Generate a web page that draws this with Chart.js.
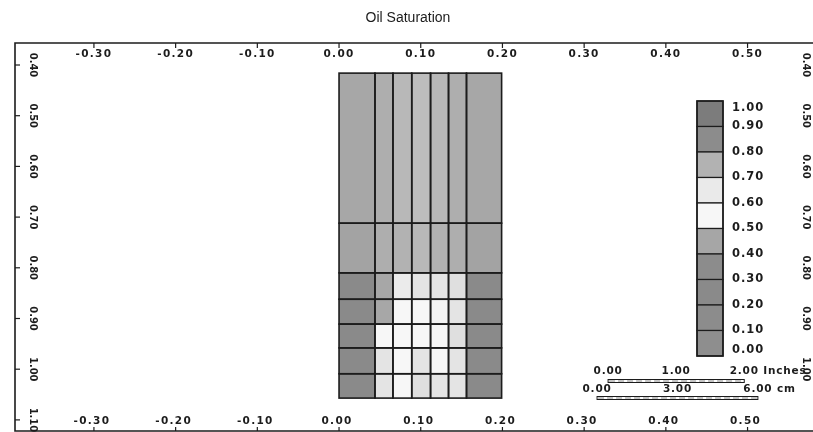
<!DOCTYPE html>
<html>
<head>
<meta charset="utf-8">
<title>Oil Saturation</title>
<script src="https://cdn.jsdelivr.net/npm/chart.js@4.4.1/dist/chart.umd.min.js"></script>
<style>
  html, body { margin: 0; padding: 0; background: #fff; overflow: hidden; }
  #wrap { width: 813px; height: 432px; }
</style>
</head>
<body>
<div id="wrap"><canvas id="satChart" width="813" height="432"></canvas></div>
<script>
// grid cell edges (ft)
const xEdges = [0, 0.044, 0.066, 0.089, 0.112, 0.134, 0.156, 0.199];
const yEdges = [0.416, 0.712, 0.81, 0.862, 0.911, 0.958, 1.009, 1.057];

// oil saturation, one row per depth band, top to bottom
const satRows = [
  [0.78, 0.76, 0.74, 0.73, 0.74, 0.76, 0.78],
  [0.79, 0.76, 0.75, 0.74, 0.75, 0.76, 0.79],
  [0.86, 0.78, 0.64, 0.66, 0.66, 0.67, 0.86],
  [0.86, 0.78, 0.55, 0.55, 0.58, 0.66, 0.86],
  [0.86, 0.55, 0.55, 0.55, 0.56, 0.67, 0.86],
  [0.86, 0.66, 0.55, 0.66, 0.56, 0.66, 0.86],
  [0.86, 0.66, 0.55, 0.67, 0.66, 0.66, 0.86]
];

const xTicks = [-0.3, -0.2, -0.1, 0, 0.1, 0.2, 0.3, 0.4, 0.5];
const yTicks = [0.4, 0.5, 0.6, 0.7, 0.8, 0.9, 1.0, 1.1];
const yTicksRight = [0.4, 0.5, 0.6, 0.7, 0.8, 0.9, 1.0];
const legendLevels = [1.0, 0.9, 0.8, 0.7, 0.6, 0.5, 0.4, 0.3, 0.2, 0.1, 0.0];

// scale bars: labels and lengths in feet
const inchLabels = ['0.00', '1.00', '2.00'];
const cmLabels = ['0.00', '3.00', '6.00'];
const inchLen = 2 / 12;
const cmLen = 6 / 30.48;

// gray of each legend band, from 0.0-0.1 up to 0.9-1.0 (photocopy of the colour map)
const bandGrays = [0x8e, 0x8c, 0x8a, 0x8c, 0xa6, 0xf7, 0xea, 0xb2, 0x8c, 0x7c];

function satColor(v) {
    let t = v / 0.1 - 0.5;
    t = Math.max(0, Math.min(bandGrays.length - 1, t));
    const i = Math.floor(t), f = t - i;
    let g = bandGrays[i];
    if (i + 1 < bandGrays.length) g = bandGrays[i] * (1 - f) + bandGrays[i + 1] * f;
    g = Math.round(g);
    return 'rgb(' + g + ',' + g + ',' + g + ')';
}

const tickFont = 'bold 10.5px "DejaVu Sans", sans-serif';
const narrowFont = 'bold 11px "Liberation Sans Narrow", "DejaVu Sans Condensed", sans-serif';
const ink = '#1c1c1c';

// cells are drawn through the x / y scales
const cellsPlugin = {
    id: 'cells',
    beforeDatasetsDraw(chart) {
        const ctx = chart.ctx;
        const xs = chart.scales.x, ys = chart.scales.y;
        ctx.save();
        for (let r = 0; r < satRows.length; r++) {
            const y0 = ys.getPixelForValue(yEdges[r]);
            const y1 = ys.getPixelForValue(yEdges[r + 1]);
            for (let c = 0; c < satRows[r].length; c++) {
                const x0 = xs.getPixelForValue(xEdges[c]);
                const x1 = xs.getPixelForValue(xEdges[c + 1]);
                ctx.fillStyle = satColor(satRows[r][c]);
                ctx.fillRect(x0, y0, x1 - x0, y1 - y0);
            }
        }
        ctx.strokeStyle = ink;
        ctx.lineWidth = 1.6;
        for (let r = 0; r < satRows.length; r++) {
            const y0 = ys.getPixelForValue(yEdges[r]);
            const y1 = ys.getPixelForValue(yEdges[r + 1]);
            for (let c = 0; c < satRows[r].length; c++) {
                const x0 = xs.getPixelForValue(xEdges[c]);
                const x1 = xs.getPixelForValue(xEdges[c + 1]);
                ctx.strokeRect(x0, y0, x1 - x0, y1 - y0);
            }
        }
        ctx.restore();
    }
};

function rotatedLabel(ctx, text, x, y) {
    ctx.save();
    ctx.translate(x, y);
    ctx.rotate(Math.PI / 2);
    ctx.textAlign = 'center';
    ctx.textBaseline = 'middle';
    ctx.fillText(text, 0, 0);
    ctx.restore();
}

function scaleBar(ctx, xs, labels, x0, len, unit, textY, barY) {
    const px0 = xs.getPixelForValue(x0);
    const px1 = xs.getPixelForValue(x0 + len);
    ctx.font = tickFont;
    ctx.letterSpacing = '0.8px';
    ctx.textBaseline = 'middle';
    labels.forEach((lab, i) => {
        const px = px0 + (px1 - px0) * i / (labels.length - 1);
        if (i == labels.length - 1) {
            const w = ctx.measureText(lab).width;
            ctx.textAlign = 'left';
            ctx.fillText(lab + ' ' + unit, px - w / 2, textY);
        } else {
            ctx.textAlign = 'center';
            ctx.fillText(lab, px, textY);
        }
    });
    ctx.letterSpacing = '0px';
    ctx.strokeStyle = ink;
    ctx.lineWidth = 1;
    ctx.strokeRect(px0, barY, px1 - px0, 3);
    ctx.strokeStyle = '#8a8a8a';
    ctx.setLineDash([6, 3]);
    ctx.beginPath();
    ctx.moveTo(px0 + 1, barY + 1.5);
    ctx.lineTo(px1 - 1, barY + 1.5);
    ctx.stroke();
    ctx.setLineDash([]);
}

// frame, axes, colour legend, scale bars and title
const decorPlugin = {
    id: 'decor',
    afterDraw(chart) {
        const ctx = chart.ctx;
        const xs = chart.scales.x, ys = chart.scales.y;
        const a = chart.chartArea;
        ctx.save();
        ctx.fillStyle = ink;
        ctx.strokeStyle = ink;

        // title
        ctx.font = '14px "Liberation Sans", Arial, sans-serif';
        ctx.textAlign = 'center';
        ctx.textBaseline = 'middle';
        ctx.fillText('Oil Saturation', 408, 18);

        // frame (right side runs off the page)
        ctx.lineWidth = 1.6;
        ctx.beginPath();
        ctx.moveTo(a.right + 2, a.top);
        ctx.lineTo(a.left, a.top);
        ctx.lineTo(a.left, a.bottom);
        ctx.lineTo(a.right + 2, a.bottom);
        ctx.stroke();

        // x ticks, top and bottom, labels inside the frame
        ctx.lineWidth = 1.2;
        ctx.font = tickFont;
        ctx.letterSpacing = '1.3px';
        ctx.textAlign = 'center';
        xTicks.forEach(v => {
            const px = xs.getPixelForValue(v);
            ctx.beginPath();
            ctx.moveTo(px, a.top);
            ctx.lineTo(px, a.top + 5);
            ctx.moveTo(px, a.bottom);
            ctx.lineTo(px, a.bottom - 4);
            ctx.stroke();
            ctx.fillText(v.toFixed(2), px, a.top + 11);
            ctx.fillText(v.toFixed(2), px - 2, a.bottom - 10);
        });
        ctx.letterSpacing = '0px';

        // y ticks, rotated labels
        ctx.font = narrowFont;
        yTicks.forEach(v => {
            const py = ys.getPixelForValue(v);
            ctx.beginPath();
            ctx.moveTo(a.left, py);
            ctx.lineTo(a.left + 5, py);
            ctx.stroke();
            rotatedLabel(ctx, v.toFixed(2), a.left + 18, py);
        });
        yTicksRight.forEach(v => {
            rotatedLabel(ctx, v.toFixed(2), 806, ys.getPixelForValue(v));
        });

        // colour legend
        const lx = 697, lw = 26, ltop = 101, bh = 25.5;
        ctx.lineWidth = 1.2;
        for (let i = 0; i < legendLevels.length - 1; i++) {
            const top = legendLevels[i], bot = legendLevels[i + 1];
            const y0 = ltop + i * bh;
            ctx.fillStyle = satColor((top + bot) / 2);
            ctx.fillRect(lx, y0, lw, bh);
            ctx.strokeRect(lx, y0, lw, bh);
        }
        ctx.lineWidth = 1.6;
        ctx.strokeRect(lx, ltop, lw, bh * (legendLevels.length - 1));
        ctx.fillStyle = ink;
        ctx.font = 'bold 11.5px "DejaVu Sans", sans-serif';
        ctx.letterSpacing = '1px';
        ctx.textAlign = 'left';
        legendLevels.forEach((v, i) => {
            let py = ltop + i * bh;
            py = Math.max(108, Math.min(350, py));
            ctx.fillText(v.toFixed(2), 732, py);
        });
        ctx.letterSpacing = '0px';

        // scale bars (white behind the text, it sits over the right axis labels)
        scaleBar(ctx, xs, inchLabels, 0.3293, inchLen, 'Inches', 371, 379.5);
        scaleBar(ctx, xs, cmLabels, 0.3158, cmLen, 'cm', 389, 396.5);

        ctx.restore();
    }
};

const cellPoints = [];
satRows.forEach((row, r) => {
    row.forEach((v, c) => {
        cellPoints.push({
            x: (xEdges[c] + xEdges[c + 1]) / 2,
            y: (yEdges[r] + yEdges[r + 1]) / 2,
            v: v
        });
    });
});

new Chart(document.getElementById('satChart'), {
    type: 'scatter',
    data: {
        datasets: [{
            label: 'Oil Saturation',
            data: cellPoints,
            pointRadius: 0,
            pointHoverRadius: 0
        }]
    },
    options: {
        responsive: false,
        animation: false,
        devicePixelRatio: 1,
        events: [],
        layout: { padding: { left: 15, top: 43, right: 0, bottom: 1 } },
        plugins: {
            legend: { display: false },
            title: { display: false },
            tooltip: { enabled: false }
        },
        scales: {
            x: { type: 'linear', display: false, min: -0.3966, max: 0.5801 },
            y: { type: 'linear', display: false, reverse: true, min: 0.3566, max: 1.1219 }
        }
    },
    plugins: [cellsPlugin, decorPlugin]
});
</script>
</body>
</html>
